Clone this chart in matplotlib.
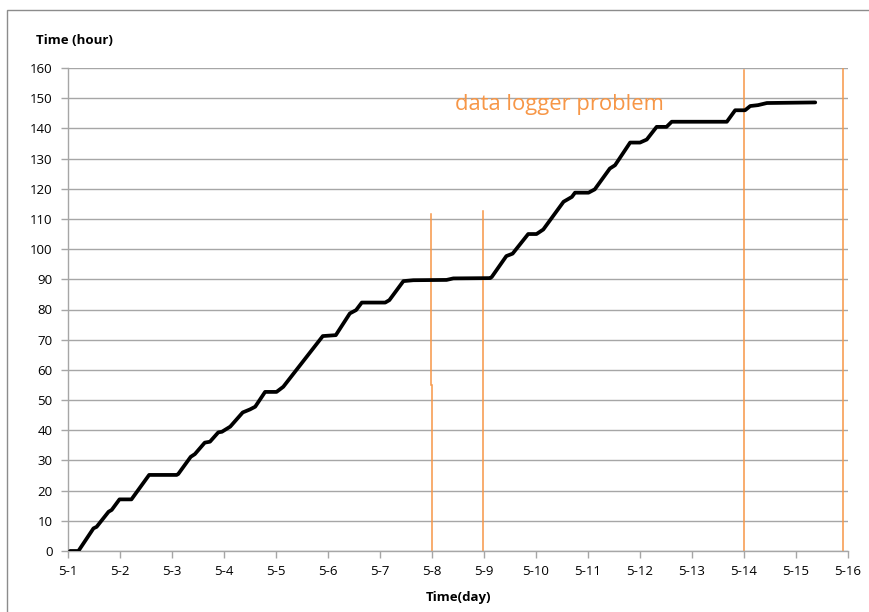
import matplotlib
matplotlib.use("Agg")
import matplotlib.pyplot as plt
from matplotlib.patches import Rectangle

# Days since 5-1 (0 = 5-1) and cumulative time in hours
days = [0.04, 0.20, 0.49, 0.55, 0.78, 0.84, 0.99, 1.22, 1.56, 2.09, 2.12, 2.36, 2.44,
        2.63, 2.73, 2.89, 2.96, 3.12, 3.36, 3.50, 3.60, 3.79, 4.01, 4.14, 4.90, 5.15,
        5.42, 5.54, 5.65, 6.10, 6.18, 6.45, 6.64, 7.28, 7.41, 8.12, 8.15, 8.43, 8.55,
        8.85, 9.01, 9.14, 9.53, 9.69, 9.75, 10.01, 10.13, 10.42, 10.52, 10.81, 11.00,
        11.13, 11.32, 11.51, 11.61, 12.67, 12.83, 13.02, 13.12, 13.27, 13.44, 14.37]
hours = [0, 0, 7.5, 8, 13, 13.6, 17.1, 17.1, 25.2, 25.2, 25.5, 31.2, 32.1,
         35.9, 36.2, 39.3, 39.5, 41.2, 45.9, 46.9, 47.8, 52.7, 52.7, 54.4, 71.2, 71.5,
         78.7, 79.8, 82.3, 82.3, 83.1, 89.4, 89.7, 89.8, 90.3, 90.4, 90.8, 97.7, 98.5,
         105, 105, 106.5, 115.7, 117.3, 118.7, 118.7, 119.8, 126.7, 127.8, 135.3, 135.3,
         136.3, 140.5, 140.5, 142.2, 142.2, 146, 146, 147.4, 147.7, 148.4, 148.6]

tick_days = list(range(16))
tick_labels = ["5-%d" % (d + 1) for d in tick_days]
y_ticks = list(range(0, 161, 10))

# Orange marker lines: (x, y_bottom, y_top)
marker_segments = [(6.98, 55, 111.8), (7.0, 0, 55), (7.98, 0, 112.5),
                   (13.0, 0, 159.5), (14.9, 0, 159.8)]
annotation_text = "data logger problem"

W, H = 869, 612
fig = plt.figure(figsize=(W / 100, H / 100), dpi=100)
fig.patch.set_facecolor("white")

# outer chart frame (only top and left visible)
fig.patches.append(Rectangle((7 / W, -0.1), 2, 1 - 9.5 / H + 0.1,
                             transform=fig.transFigure, fill=False,
                             edgecolor="#8c8c8c", linewidth=1.0))

ax = fig.add_axes([68 / W, 1 - 551 / H, (848 - 68) / W, (551 - 68) / H])
ax.set_xlim(0, 15)
ax.set_ylim(0, 160)

grid_c = "#a6a6a6"
for y in y_ticks:
    ax.axhline(y, color=grid_c, linewidth=1.0, zorder=1)

for s in ["top", "right"]:
    ax.spines[s].set_visible(False)
for s in ["left", "bottom"]:
    ax.spines[s].set_color(grid_c)
    ax.spines[s].set_linewidth(1.0)

for x, y0, y1 in marker_segments:
    ax.plot([x, x], [y0, y1], color="#F79646", linewidth=1.1, zorder=2)

ax.plot(days, hours, color="black", linewidth=2.7, solid_joinstyle="round",
        solid_capstyle="round", zorder=3)

font = "Open Sans"
ax.set_xticks(tick_days)
ax.set_xticklabels(tick_labels, fontsize=9.5, family=font)
ax.set_yticks(y_ticks)
ax.set_yticklabels([str(v) for v in y_ticks], fontsize=9.5, family=font)
ax.tick_params(axis="both", color=grid_c, length=5, width=1.0, colors="black")
ax.tick_params(axis="x", pad=5)
ax.tick_params(axis="y", pad=6)
for lbl in ax.get_xticklabels() + ax.get_yticklabels():
    lbl.set_color("black")

ax.text(7.44, 148, annotation_text, color="#F79646", fontsize=15.8, family=font,
        va="center", ha="left", zorder=4)

fig.text(36 / W, 1 - 40 / H, "Time (hour)", fontsize=9.5, fontweight="bold",
         family=font, va="center", ha="left")
fig.text(458 / W, 1 - 597 / H, "Time(day)", fontsize=9.5, fontweight="bold",
         family=font, va="center", ha="center")

fig.savefig("out.png", dpi=100, facecolor="white")
